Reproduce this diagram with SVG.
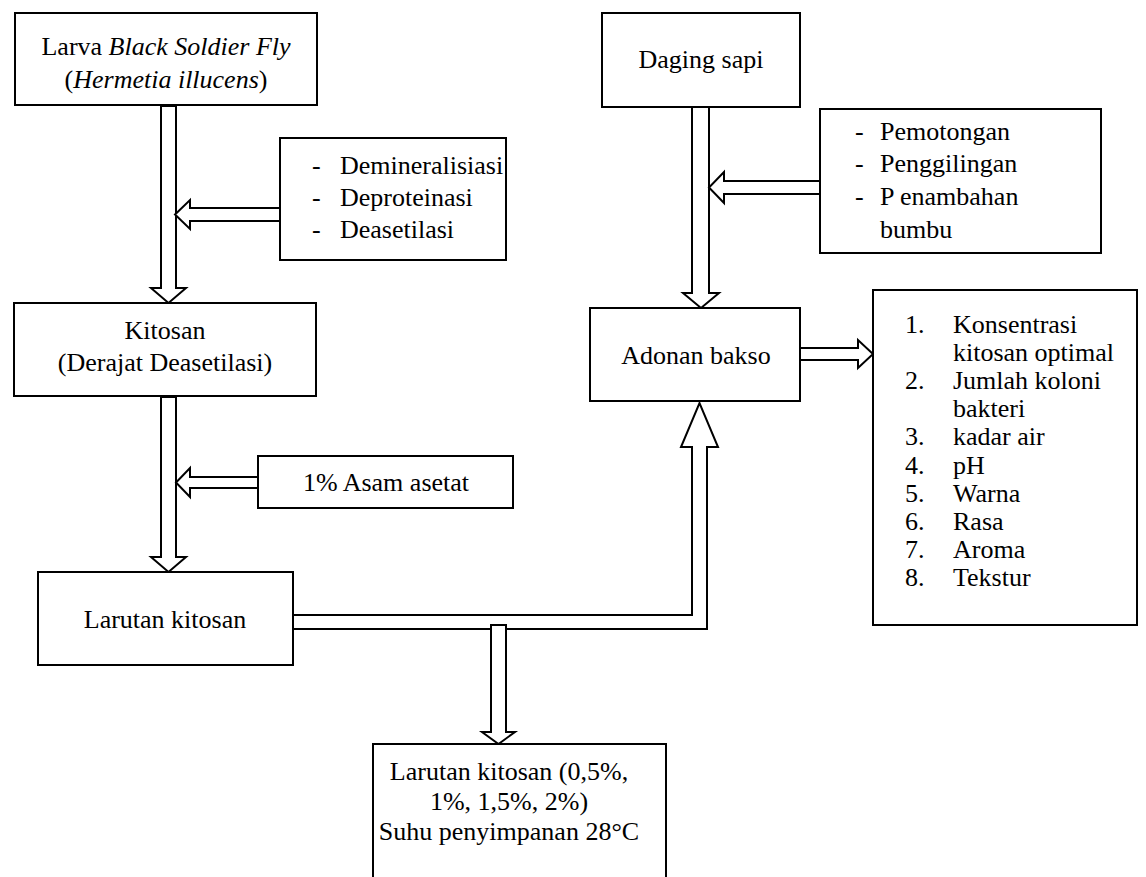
<svg xmlns="http://www.w3.org/2000/svg" width="1146" height="877" viewBox="0 0 1146 877">
<style>
.box{fill:#fff;stroke:#000;stroke-width:2}
.arr{fill:#fff;stroke:#000;stroke-width:2;stroke-linejoin:miter}
text{font-family:"Liberation Serif","Times New Roman",serif;font-size:26px;fill:#000}
.c{text-anchor:middle}
</style>
<rect width="1146" height="877" fill="#fff"/>
<g id="connectors">
<polygon class="arr" points="161,106 176,106 176,288 186,288 168.5,303 151,288 161,288"/>
<polygon class="arr" points="280,208 190,208 190,200 175,214.5 190,229 190,221 280,221"/>
<polygon class="arr" points="161,397 176,397 176,557 186,557 168.5,572 151,557 161,557"/>
<polygon class="arr" points="258,477 190,477 190,468 176,482.5 190,497 190,488 258,488"/>
<polygon class="arr" points="692,107 709,107 709,293 719,293 701,308 683,293 692,293"/>
<polygon class="arr" points="820,181 724,181 724,172 709,187.5 724,203 724,194 820,194"/>
<polygon class="arr" points="293,615 692,615 692,447 681,447 699.5,403 718,447 707,447 707,629 293,629"/>
<polygon class="arr" points="491,625 506,625 506,732 515,732 498.5,744 482,732 491,732"/>
<polygon class="arr" points="800,348 858,348 858,340 873,354 858,368 858,360 800,360"/>
</g>
<g id="larva">
<rect class="box" x="15" y="13" width="302" height="92"/>
<text class="c" x="166" y="55">Larva <tspan font-style="italic">Black Soldier Fly</tspan></text>
<text class="c" x="166" y="88">(<tspan font-style="italic">Hermetia illucens</tspan>)</text>
</g>
<g id="proses-kitosan">
<rect class="box" x="280" y="138" width="226" height="122"/>
<text x="312" y="174">-</text><text x="340" y="174">Demineralisiasi</text>
<text x="312" y="206">-</text><text x="340" y="206">Deproteinasi</text>
<text x="312" y="238">-</text><text x="340" y="238">Deasetilasi</text>
</g>
<g id="kitosan">
<rect class="box" x="14" y="303" width="302" height="93"/>
<text class="c" x="165" y="339">Kitosan</text>
<text class="c" x="165" y="371">(Derajat Deasetilasi)</text>
</g>
<g id="asam-asetat">
<rect class="box" x="258" y="456" width="255" height="52"/>
<text class="c" x="386" y="491">1% Asam asetat</text>
</g>
<g id="larutan-kitosan">
<rect class="box" x="38" y="572" width="255" height="93"/>
<text class="c" x="165" y="628">Larutan kitosan</text>
</g>
<g id="daging-sapi">
<rect class="box" x="602" y="13" width="198" height="94"/>
<text class="c" x="701" y="68">Daging sapi</text>
</g>
<g id="proses-daging">
<rect class="box" x="820" y="109" width="281" height="144"/>
<text x="855" y="140">-</text><text x="880" y="140">Pemotongan</text>
<text x="855" y="172">-</text><text x="880" y="172">Penggilingan</text>
<text x="855" y="205">-</text><text x="880" y="205">P enambahan</text>
<text x="880" y="238">bumbu</text>
</g>
<g id="adonan-bakso">
<rect class="box" x="590" y="308" width="210" height="93"/>
<text class="c" x="696" y="364">Adonan bakso</text>
</g>
<g id="parameter">
<rect class="box" x="873" y="290" width="264" height="335"/>
<text x="905" y="333">1.</text><text x="953" y="333">Konsentrasi</text>
<text x="953" y="361">kitosan optimal</text>
<text x="905" y="389">2.</text><text x="953" y="389">Jumlah koloni</text>
<text x="953" y="417">bakteri</text>
<text x="905" y="445">3.</text><text x="953" y="445">kadar air</text>
<text x="905" y="474">4.</text><text x="953" y="474">pH</text>
<text x="905" y="502">5.</text><text x="953" y="502">Warna</text>
<text x="905" y="530">6.</text><text x="953" y="530">Rasa</text>
<text x="905" y="558">7.</text><text x="953" y="558">Aroma</text>
<text x="905" y="586">8.</text><text x="953" y="586">Tekstur</text>
</g>
<g id="larutan-penyimpanan">
<rect class="box" x="373" y="744" width="293" height="140"/>
<text class="c" x="509" y="780">Larutan kitosan (0,5%,</text>
<text class="c" x="509" y="810">1%, 1,5%, 2%)</text>
<text class="c" x="509" y="840">Suhu penyimpanan 28°C</text>
</g>
</svg>
